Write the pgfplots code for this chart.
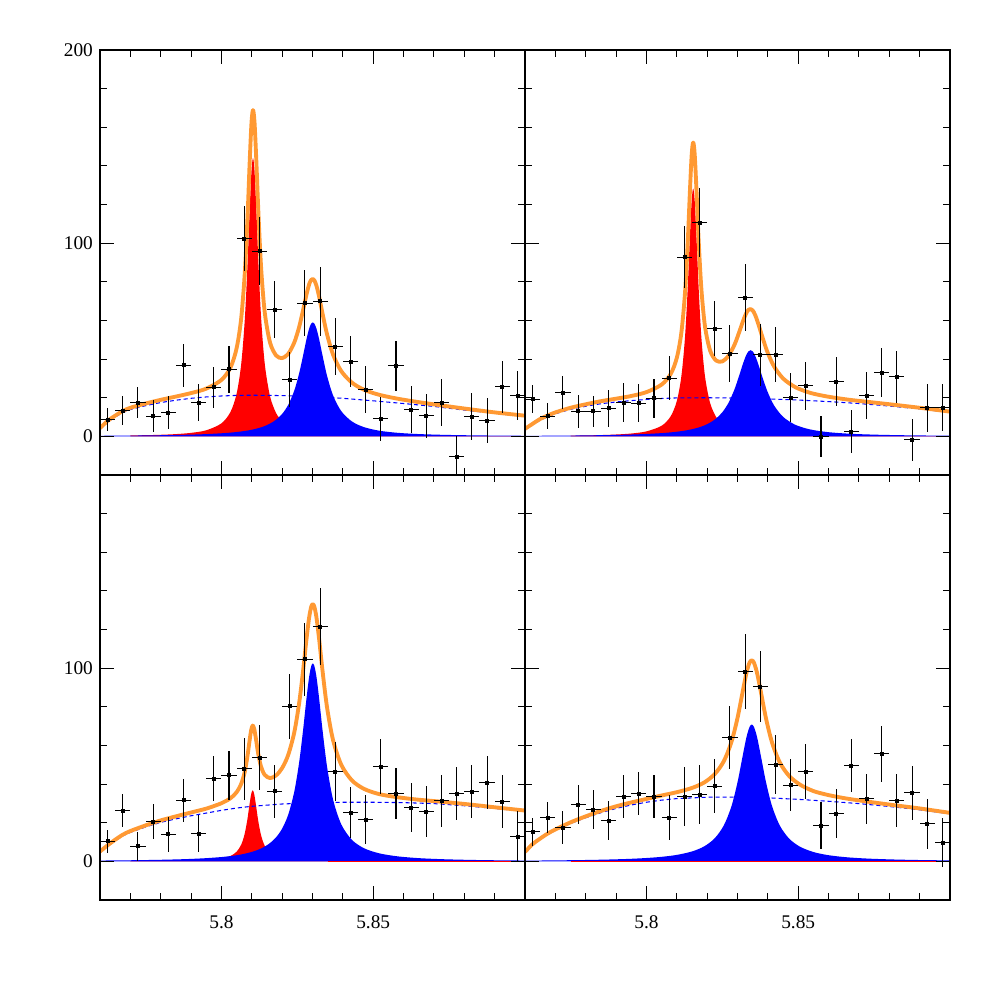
\documentclass[border=0pt]{standalone}
\usepackage{fontspec}
\setmainfont{Liberation Serif}
\usepackage{pgfplots}
\pgfplotsset{compat=1.18}
\definecolor{fitorange}{RGB}{255,153,51}

\pgfplotsset{
  panel/.style={
    scale only axis, width=85mm, height=85mm,
    xmin=5.76, xmax=5.90, ymin=-20, ymax=200,
    xtick={5.8,5.85},
    minor xtick={5.77,5.78,5.79,5.81,5.82,5.83,5.84,5.86,5.87,5.88,5.89},
    ytick={0,100,200},
    minor ytick={20,40,60,80,120,140,160,180},
    tick align=inside, tick pos=both,
    major tick length=2.8mm, minor tick length=1.4mm,
    axis line style={line width=0.6pt},
    tick style={line width=0.6pt, black},
    ticklabel style={font=\fontsize{11}{13}\selectfont, inner sep=0pt},
    xticklabel style={yshift=-3mm},
    yticklabel style={xshift=-1.35mm},
    axis on top,
  },
  redpk/.style={draw=none, fill=red, smooth},
  bluepk/.style={draw=none, fill=blue, smooth},
  bkg/.style={blue, line width=0.6pt, dash pattern=on 0.8mm off 0.6mm},
  fit/.style={fitorange, line width=2.2pt, smooth, line join=round},
  pts/.style={only marks, black, mark=square*, mark size=0.3mm,
    error bars/.cd, x dir=both, x fixed=0.0025, y dir=both, y explicit,
    error mark=none, error bar style={line width=0.6pt, black}},
}

\begin{document}
\begin{tikzpicture}
\useasboundingbox (0,0) rectangle (200mm,200mm);

% ---------------- top left ----------------
\begin{axis}[panel, at={(20mm,105mm)}, anchor=south west,
  xticklabels={}, yticklabels={0,100,200}]
\addplot[redpk] coordinates {(5.7700,0.47)(5.7750,0.61)(5.7800,0.82)(5.7850,1.17)(5.7900,1.81)(5.7950,3.14)(5.8000,6.73)(5.8030,12.69)(5.8050,22.1)(5.8065,37.2)(5.8077,60.6)(5.8086,89.3)(5.8093,117.2)(5.8099,137.5)(5.8104,144)(5.8109,137.5)(5.8115,117.2)(5.8122,89.3)(5.8131,60.6)(5.8143,37.2)(5.8160,20.8)(5.8180,12.08)(5.8200,7.82)(5.8220,5.45)(5.8240,4.00)(5.8256,3.22)(5.8270,2.71)(5.8281,2.39)(5.8290,2.17)(5.8296,2.04)(5.8301,1.94)(5.8306,1.84)(5.8313,1.72)(5.8322,1.59)(5.8333,1.44)(5.8348,1.27)(5.8368,1.09)(5.8395,0.89)(5.8430,0.71)(5.8470,0.57)(5.8520,0.44)(5.8580,0.34)(5.8650,0.26)(5.8730,0.19)(5.8820,0.15)(5.8900,0.12)(5.9000,0.09)} \closedcycle;
\addplot[bluepk] coordinates {(5.7600,0.30)(5.7650,0.35)(5.7700,0.41)(5.7750,0.48)(5.7800,0.58)(5.7850,0.72)(5.7900,0.90)(5.7950,1.17)(5.8000,1.59)(5.8030,1.94)(5.8050,2.25)(5.8065,2.53)(5.8077,2.80)(5.8086,3.03)(5.8093,3.22)(5.8099,3.41)(5.8104,3.57)(5.8109,3.75)(5.8115,3.98)(5.8122,4.27)(5.8131,4.70)(5.8143,5.37)(5.8160,6.59)(5.8180,8.60)(5.8200,11.61)(5.8220,16.28)(5.8240,23.71)(5.8256,32.6)(5.8270,42.6)(5.8281,50.9)(5.8290,56.3)(5.8296,58.4)(5.8301,59.0)(5.8306,58.4)(5.8313,55.8)(5.8322,50.2)(5.8333,41.9)(5.8348,31.3)(5.8368,21.1)(5.8395,13.0)(5.8430,7.71)(5.8470,4.75)(5.8520,2.92)(5.8580,1.84)(5.8650,1.19)(5.8730,0.79)(5.8820,0.54)(5.8900,0.41)(5.9000,0.30)} \closedcycle;
\addplot[bkg] coordinates {(5.7600,3.6)(5.7625,7.3)(5.7650,10.0)(5.7675,12.3)(5.7700,13.9)(5.7750,15.9)(5.7800,17.5)(5.7850,18.7)(5.7900,19.7)(5.7950,20.4)(5.8000,20.9)(5.8050,21.2)(5.8100,21.3)(5.8200,21.1)(5.8300,20.6)(5.8400,19.7)(5.8500,18.4)(5.8600,17.0)(5.8700,15.5)(5.8800,13.6)(5.8900,11.9)(5.9000,10.3)};
\addplot[fit] coordinates {(5.7600,4.2)(5.7625,8.0)(5.7650,10.7)(5.7675,13.1)(5.7700,14.8)(5.7750,17.0)(5.7800,18.9)(5.7850,20.6)(5.7900,22.4)(5.7950,24.7)(5.8000,29.2)(5.8030,35.7)(5.8050,45.6)(5.8065,60.9)(5.8077,84.7)(5.8086,113.6)(5.8093,141.7)(5.8099,162.2)(5.8104,168.9)(5.8109,162.6)(5.8115,142.5)(5.8122,114.9)(5.8131,86.6)(5.8143,63.8)(5.8160,48.6)(5.8180,41.9)(5.8200,40.5)(5.8220,42.7)(5.8240,48.6)(5.8256,56.6)(5.8270,66.1)(5.8281,74.0)(5.8290,79.2)(5.8296,81.0)(5.8301,81.5)(5.8306,80.8)(5.8313,78.0)(5.8322,72.2)(5.8333,63.6)(5.8348,52.8)(5.8368,42.2)(5.8395,33.7)(5.8430,27.8)(5.8470,24.1)(5.8520,21.5)(5.8580,19.5)(5.8650,17.7)(5.8730,15.9)(5.8820,14.0)(5.8900,12.4)(5.9000,10.7)};
\addplot[pts] coordinates {
(5.7625,8.6) +- (0,6.0)
(5.7675,13.3) +- (0,7.5)
(5.7725,17.5) +- (0,8.2)
(5.7775,10.4) +- (0,8.2)
(5.7825,12.3) +- (0,8.4)
(5.7875,36.8) +- (0,11.0)
(5.7925,17.6) +- (0,9.5)
(5.7975,25.4) +- (0,10.5)
(5.8025,34.7) +- (0,12.1)
(5.8075,102.4) +- (0,17.0)
(5.8125,95.9) +- (0,17.4)
(5.8175,65.6) +- (0,14.9)
(5.8225,29.5) +- (0,14.2)
(5.8275,69.0) +- (0,17.0)
(5.8325,69.9) +- (0,18.0)
(5.8375,46.5) +- (0,14.9)
(5.8425,38.7) +- (0,13.3)
(5.8475,24.2) +- (0,12.1)
(5.8525,9.2) +- (0,11.4)
(5.8575,36.6) +- (0,13.0)
(5.8625,13.8) +- (0,12.1)
(5.8675,10.7) +- (0,11.4)
(5.8725,17.5) +- (0,12.1)
(5.8775,-10.5) +- (0,10.8)
(5.8825,10.2) +- (0,12.0)
(5.8875,8.1) +- (0,11.5)
(5.8925,25.7) +- (0,13.4)
(5.8975,21.1) +- (0,12.7)
};
\end{axis}

% ---------------- top right ----------------
\begin{axis}[panel, at={(105mm,105mm)}, anchor=south west,
  xticklabels={}, yticklabels={}]
\addplot[redpk] coordinates {(5.7750,0.38)(5.7800,0.49)(5.7850,0.67)(5.7900,0.96)(5.7950,1.47)(5.8000,2.57)(5.8050,5.49)(5.8080,10.42)(5.8100,18.26)(5.8115,30.97)(5.8127,51.2)(5.8136,76.9)(5.8143,102.6)(5.8149,122.0)(5.8154,128.3)(5.8159,122.0)(5.8165,102.6)(5.8172,76.9)(5.8181,51.2)(5.8193,30.97)(5.8210,17.15)(5.8230,9.92)(5.8250,6.40)(5.8270,4.45)(5.8290,3.27)(5.8305,2.67)(5.8318,2.27)(5.8328,2.02)(5.8336,1.85)(5.8343,1.72)(5.8350,1.60)(5.8358,1.47)(5.8368,1.34)(5.8381,1.19)(5.8398,1.03)(5.8420,0.87)(5.8450,0.70)(5.8490,0.55)(5.8540,0.42)(5.8600,0.31)(5.8670,0.23)(5.8750,0.17)(5.8830,0.14)(5.8910,0.11)(5.9000,0.09)} \closedcycle;
\addplot[bluepk] coordinates {(5.7600,0.27)(5.7650,0.31)(5.7700,0.36)(5.7750,0.42)(5.7800,0.50)(5.7850,0.61)(5.7900,0.75)(5.7950,0.95)(5.8000,1.24)(5.8050,1.68)(5.8080,2.07)(5.8100,2.40)(5.8115,2.71)(5.8127,3.00)(5.8136,3.25)(5.8143,3.46)(5.8149,3.66)(5.8154,3.84)(5.8159,4.03)(5.8165,4.28)(5.8172,4.60)(5.8181,5.07)(5.8193,5.80)(5.8210,7.12)(5.8230,9.30)(5.8250,12.49)(5.8270,17.26)(5.8290,24.3)(5.8305,31.2)(5.8318,37.6)(5.8328,41.8)(5.8336,44.0)(5.8343,44.6)(5.8350,44.0)(5.8358,41.8)(5.8368,37.6)(5.8381,31.2)(5.8398,23.5)(5.8420,16.15)(5.8450,10.13)(5.8490,6.01)(5.8540,3.56)(5.8600,2.16)(5.8670,1.36)(5.8750,0.89)(5.8830,0.62)(5.8910,0.46)(5.9000,0.34)} \closedcycle;
\addplot[bkg] coordinates {(5.7600,3.4)(5.7625,6.0)(5.7650,8.4)(5.7675,10.2)(5.7700,11.7)(5.7750,14.0)(5.7800,15.6)(5.7850,16.9)(5.7900,17.8)(5.7950,18.5)(5.8000,19.1)(5.8050,19.6)(5.8100,19.9)(5.8200,20.0)(5.8300,19.8)(5.8400,19.4)(5.8500,18.8)(5.8600,18.0)(5.8700,17.0)(5.8800,15.7)(5.8900,14.2)(5.9000,12.4)};
\addplot[fit] coordinates {(5.7600,3.9)(5.7625,6.5)(5.7650,9.0)(5.7675,10.8)(5.7700,12.4)(5.7750,14.8)(5.7800,16.6)(5.7850,18.2)(5.7900,19.5)(5.7950,20.9)(5.8000,22.9)(5.8050,26.8)(5.8080,32.3)(5.8100,40.6)(5.8115,53.6)(5.8127,74.1)(5.8136,100.1)(5.8143,126.0)(5.8149,145.6)(5.8154,152.1)(5.8159,146.0)(5.8165,126.9)(5.8172,101.5)(5.8181,76.3)(5.8193,56.8)(5.8210,44.3)(5.8230,39.2)(5.8250,38.8)(5.8270,41.6)(5.8290,47.4)(5.8305,53.7)(5.8318,59.6)(5.8328,63.5)(5.8336,65.5)(5.8343,65.9)(5.8350,65.2)(5.8358,62.9)(5.8368,58.5)(5.8381,51.9)(5.8398,43.9)(5.8420,36.3)(5.8450,30.0)(5.8490,25.5)(5.8540,22.5)(5.8600,20.5)(5.8670,18.9)(5.8750,17.5)(5.8830,16.1)(5.8910,14.6)(5.9000,12.8)};
\addplot[pts] coordinates {
(5.7625,19.2) +- (0,7.3)
(5.7675,10.4) +- (0,6.7)
(5.7725,22.6) +- (0,8.6)
(5.7775,13.0) +- (0,8.6)
(5.7825,13.0) +- (0,8.1)
(5.7875,14.5) +- (0,9.5)
(5.7925,17.6) +- (0,10.0)
(5.7975,17.1) +- (0,9.8)
(5.8025,19.7) +- (0,10.2)
(5.8075,30.1) +- (0,11.4)
(5.8125,92.7) +- (0,16.1)
(5.8175,110.7) +- (0,17.7)
(5.8225,55.8) +- (0,14.4)
(5.8275,42.8) +- (0,14.7)
(5.8325,71.8) +- (0,17.4)
(5.8375,42.3) +- (0,16.0)
(5.8425,42.3) +- (0,14.2)
(5.8475,20.0) +- (0,12.7)
(5.8525,26.2) +- (0,12.3)
(5.8575,0.0) +- (0,10.5)
(5.8625,28.3) +- (0,12.8)
(5.8675,2.4) +- (0,11.2)
(5.8725,21.1) +- (0,12.3)
(5.8775,33.0) +- (0,12.8)
(5.8825,30.9) +- (0,13.4)
(5.8875,-1.7) +- (0,10.8)
(5.8925,14.9) +- (0,12.4)
(5.8975,14.9) +- (0,12.3)
};
\end{axis}

% ---------------- bottom left ----------------
\begin{axis}[panel, at={(20mm,20mm)}, anchor=south west,
  xticklabels={5.8,5.85}, yticklabels={0,100,{}}]
\addplot[redpk] coordinates {(5.7700,0.10)(5.7750,0.13)(5.7800,0.18)(5.7850,0.25)(5.7900,0.39)(5.7950,0.68)(5.8000,1.47)(5.8030,2.81)(5.8050,4.99)(5.8065,8.61)(5.8076,13.87)(5.8085,21.21)(5.8092,28.88)(5.8098,34.83)(5.8103,36.8)(5.8108,34.83)(5.8114,28.88)(5.8121,21.21)(5.8130,13.87)(5.8142,8.27)(5.8160,4.40)(5.8180,2.55)(5.8200,1.65)(5.8220,1.15)(5.8240,0.84)(5.8256,0.68)(5.8269,0.58)(5.8280,0.51)(5.8289,0.46)(5.8296,0.43)(5.8301,0.41)(5.8306,0.39)(5.8313,0.36)(5.8322,0.34)(5.8333,0.30)(5.8348,0.27)(5.8368,0.23)(5.8395,0.19)(5.8430,0.15)(5.8470,0.12)(5.8520,0.09)(5.8580,0.07)(5.8650,0.05)(5.8730,0.04)(5.8820,0.03)(5.8900,0.03)(5.9000,0.02)} \closedcycle;
\addplot[bluepk] coordinates {(5.7600,0.42)(5.7650,0.49)(5.7700,0.57)(5.7750,0.68)(5.7800,0.82)(5.7850,1.01)(5.7900,1.27)(5.7950,1.66)(5.8000,2.24)(5.8030,2.75)(5.8050,3.19)(5.8065,3.59)(5.8076,3.94)(5.8085,4.26)(5.8092,4.54)(5.8098,4.80)(5.8103,5.03)(5.8108,5.28)(5.8114,5.60)(5.8121,6.02)(5.8130,6.63)(5.8142,7.60)(5.8160,9.47)(5.8180,12.44)(5.8200,16.96)(5.8220,24.15)(5.8240,36.09)(5.8256,51.2)(5.8269,68.0)(5.8280,84.1)(5.8289,95.6)(5.8296,101.2)(5.8301,102.4)(5.8306,101.2)(5.8313,95.6)(5.8322,84.1)(5.8333,68.0)(5.8348,48.97)(5.8368,31.83)(5.8395,19.09)(5.8430,11.11)(5.8470,6.78)(5.8520,4.15)(5.8580,2.60)(5.8650,1.67)(5.8730,1.11)(5.8820,0.76)(5.8900,0.57)(5.9000,0.42)} \closedcycle;
\addplot[red, line width=0.6pt] coordinates {(5.8350,0)(5.9000,0)};
\addplot[bkg] coordinates {(5.7600,4.6)(5.7625,7.8)(5.7650,10.6)(5.7675,13.2)(5.7700,15.0)(5.7750,17.8)(5.7800,20.2)(5.7850,22.0)(5.7900,23.6)(5.7950,25.0)(5.8000,26.4)(5.8050,27.6)(5.8100,28.5)(5.8200,29.7)(5.8300,30.3)(5.8400,30.6)(5.8500,30.6)(5.8600,30.4)(5.8700,29.9)(5.8800,28.8)(5.8900,27.4)(5.9000,25.9)};
\addplot[fit] coordinates {(5.7600,5.1)(5.7625,8.3)(5.7650,11.2)(5.7675,13.8)(5.7700,15.7)(5.7750,18.6)(5.7800,21.2)(5.7850,23.3)(5.7900,25.3)(5.7950,27.3)(5.8000,30.1)(5.8030,32.7)(5.8050,35.8)(5.8065,40.1)(5.8076,45.8)(5.8085,53.7)(5.8092,61.7)(5.8098,68.0)(5.8103,70.3)(5.8108,68.6)(5.8114,63.1)(5.8121,55.9)(5.8130,49.3)(5.8142,44.9)(5.8160,43.1)(5.8180,44.5)(5.8200,48.3)(5.8220,55.1)(5.8240,66.8)(5.8256,81.9)(5.8269,98.7)(5.8280,114.8)(5.8289,126.3)(5.8296,131.9)(5.8301,133.1)(5.8306,131.9)(5.8313,126.3)(5.8322,114.8)(5.8333,98.7)(5.8348,79.6)(5.8368,62.6)(5.8395,49.9)(5.8430,41.9)(5.8470,37.5)(5.8520,34.8)(5.8580,33.2)(5.8650,31.9)(5.8730,30.8)(5.8820,29.4)(5.8900,28.0)(5.9000,26.3)};
\addplot[pts] coordinates {
(5.7625,10.4) +- (0,6.0)
(5.7675,26.4) +- (0,8.7)
(5.7725,7.8) +- (0,7.6)
(5.7775,20.7) +- (0,9.1)
(5.7825,14.0) +- (0,9.1)
(5.7875,31.6) +- (0,11.1)
(5.7925,14.3) +- (0,9.7)
(5.7975,42.8) +- (0,11.8)
(5.8025,44.6) +- (0,12.7)
(5.8075,48.0) +- (0,16.0)
(5.8125,53.7) +- (0,16.7)
(5.8175,36.3) +- (0,13.6)
(5.8225,80.3) +- (0,16.8)
(5.8275,104.6) +- (0,19.0)
(5.8325,121.6) +- (0,20.1)
(5.8375,46.5) +- (0,15.4)
(5.8425,25.2) +- (0,13.3)
(5.8475,21.6) +- (0,12.5)
(5.8525,49.1) +- (0,14.1)
(5.8575,35.1) +- (0,13.3)
(5.8625,27.8) +- (0,12.7)
(5.8675,25.8) +- (0,13.0)
(5.8725,31.4) +- (0,13.4)
(5.8775,35.1) +- (0,13.6)
(5.8825,36.1) +- (0,13.9)
(5.8875,40.8) +- (0,13.6)
(5.8925,30.9) +- (0,13.6)
(5.8975,12.8) +- (0,13.2)
};
\end{axis}

% ---------------- bottom right ----------------
\begin{axis}[panel, at={(105mm,20mm)}, anchor=south west,
  xticklabels={5.8,5.85}, yticklabels={}]
\addplot[bluepk] coordinates {(5.7600,0.38)(5.7650,0.44)(5.7700,0.51)(5.7750,0.60)(5.7800,0.71)(5.7850,0.86)(5.7900,1.06)(5.7950,1.33)(5.8000,1.74)(5.8050,2.35)(5.8100,3.34)(5.8150,5.12)(5.8190,7.74)(5.8225,11.96)(5.8255,18.64)(5.8280,28.50)(5.8300,40.92)(5.8317,54.57)(5.8330,64.62)(5.8340,69.67)(5.8347,70.8)(5.8354,69.67)(5.8364,64.62)(5.8377,54.57)(5.8394,40.92)(5.8414,28.50)(5.8439,18.64)(5.8469,11.96)(5.8505,7.65)(5.8550,4.84)(5.8600,3.19)(5.8660,2.12)(5.8730,1.43)(5.8810,0.99)(5.8900,0.69)(5.9000,0.50)} \closedcycle;
\addplot[red, line width=0.6pt] coordinates {(5.7750,0)(5.9000,0)};
\addplot[bkg] coordinates {(5.7600,4.5)(5.7625,8.5)(5.7650,11.4)(5.7675,13.9)(5.7700,16.0)(5.7750,19.6)(5.7800,22.6)(5.7850,25.2)(5.7900,27.4)(5.7950,29.2)(5.8000,30.6)(5.8050,31.7)(5.8100,32.5)(5.8200,33.2)(5.8300,33.3)(5.8400,32.9)(5.8500,32.1)(5.8600,31.1)(5.8700,29.9)(5.8800,28.4)(5.8900,26.7)(5.9000,24.6)};
\addplot[fit] coordinates {(5.7600,4.9)(5.7625,8.9)(5.7650,11.8)(5.7675,14.4)(5.7700,16.5)(5.7750,20.2)(5.7800,23.3)(5.7850,26.1)(5.7900,28.5)(5.7950,30.5)(5.8000,32.3)(5.8050,34.1)(5.8100,35.8)(5.8150,38.0)(5.8190,40.8)(5.8225,45.2)(5.8255,51.9)(5.8280,61.8)(5.8300,74.2)(5.8317,87.8)(5.8330,97.9)(5.8340,103.0)(5.8347,104.0)(5.8354,102.9)(5.8364,97.8)(5.8377,87.7)(5.8394,73.9)(5.8414,61.4)(5.8439,51.3)(5.8469,44.4)(5.8505,39.8)(5.8550,36.4)(5.8600,34.3)(5.8660,32.5)(5.8730,30.9)(5.8810,29.2)(5.8900,27.4)(5.9000,25.1)};
\addplot[pts] coordinates {
(5.7625,15.4) +- (0,7.2)
(5.7675,22.6) +- (0,8.0)
(5.7725,17.5) +- (0,8.4)
(5.7775,29.4) +- (0,9.9)
(5.7825,26.8) +- (0,10.3)
(5.7875,21.1) +- (0,10.1)
(5.7925,33.5) +- (0,11.3)
(5.7975,35.1) +- (0,11.1)
(5.8025,33.5) +- (0,11.1)
(5.8075,22.6) +- (0,11.7)
(5.8125,33.5) +- (0,15.1)
(5.8175,34.6) +- (0,15.5)
(5.8225,38.9) +- (0,14.0)
(5.8275,64.1) +- (0,16.3)
(5.8325,98.3) +- (0,19.3)
(5.8375,90.5) +- (0,18.6)
(5.8425,50.1) +- (0,15.3)
(5.8475,39.4) +- (0,13.4)
(5.8525,46.5) +- (0,14.2)
(5.8575,18.5) +- (0,12.3)
(5.8625,24.7) +- (0,12.8)
(5.8675,49.6) +- (0,13.9)
(5.8725,32.3) +- (0,13.1)
(5.8775,55.8) +- (0,14.5)
(5.8825,31.4) +- (0,13.6)
(5.8875,35.6) +- (0,14.0)
(5.8925,19.5) +- (0,13.0)
(5.8975,9.7) +- (0,12.5)
};
\end{axis}
\end{tikzpicture}
\end{document}
